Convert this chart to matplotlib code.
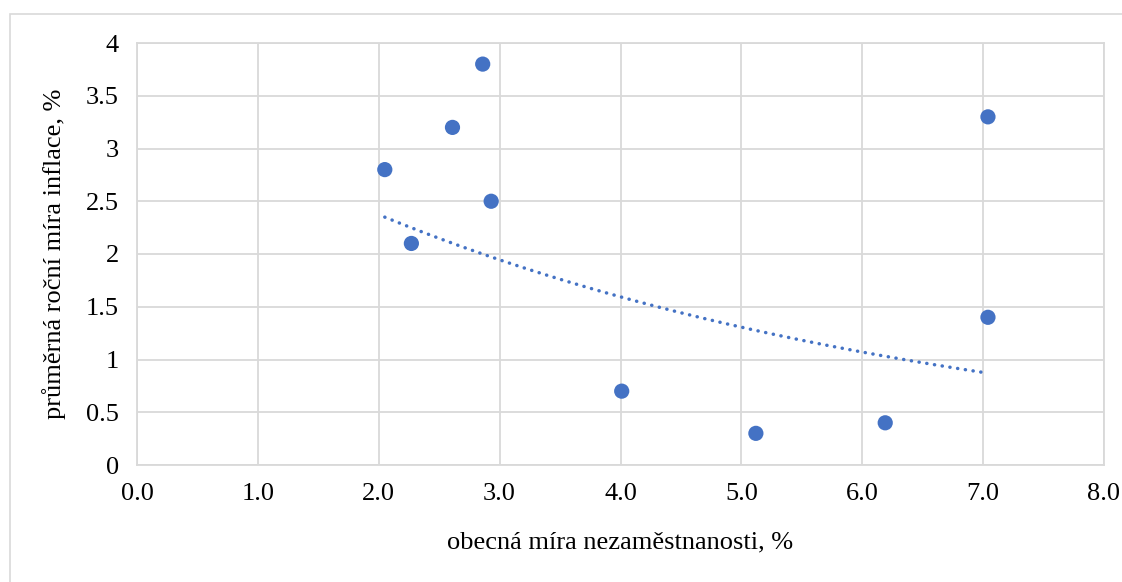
import numpy as np
import matplotlib
matplotlib.use("Agg")
import matplotlib.pyplot as plt
from matplotlib.patches import Rectangle

# data
unemployment = [2.05, 2.27, 2.61, 2.86, 2.93, 4.01, 5.12, 6.19, 7.04, 7.04]
inflation = [2.8, 2.1, 3.2, 3.8, 2.5, 0.7, 0.3, 0.4, 3.3, 1.4]
x_ticks = [0, 1, 2, 3, 4, 5, 6, 7, 8]
x_tick_labels = ["0.0", "1.0", "2.0", "3.0", "4.0", "5.0", "6.0", "7.0", "8.0"]
y_ticks = [0, 0.5, 1, 1.5, 2, 2.5, 3, 3.5, 4]
y_tick_labels = ["0", "0.5", "1", "1.5", "2", "2.5", "3", "3.5", "4"]
x_label = "obecná míra nezaměstnanosti, %"
y_label = "průměrná roční míra inflace, %"

plt.rcParams['font.family'] = ['Liberation Serif', 'DejaVu Serif']

W, H = 1122, 582
fig = plt.figure(figsize=(W / 100, H / 100), dpi=100)
fig.patch.set_facecolor("white")

# outer chart border
fig.add_artist(Rectangle((10 / W, -0.1), 1.2, (H - 14) / H + 0.1,
                         transform=fig.transFigure, fill=False,
                         edgecolor="#D9D9D9", linewidth=1.2))

ax = fig.add_axes([137 / W, 1 - 465 / H, (1104 - 137) / W, (465 - 43) / H])

grid_color = "#D9D9D9"
for s in ax.spines.values():
    s.set_color(grid_color)
    s.set_linewidth(1.3)
ax.grid(True, color=grid_color, linewidth=1.3)
ax.set_axisbelow(True)

x = np.array(unemployment)
y = np.array(inflation)

# exponential trendline (least squares on log y)
b, lna = np.polyfit(x, np.log(y), 1)
xs = np.linspace(x.min(), x.max(), 200)
ys = np.exp(lna) * np.exp(b * xs)
ax.plot(xs, ys, color="#4472C4", linewidth=2.5, linestyle=(0, (0.05, 2.2)),
        dash_capstyle="round", zorder=2)

ax.scatter(x, y, s=120, color="#4472C4", edgecolors="none", zorder=3)

ax.set_xlim(0, 8)
ax.set_ylim(0, 4)
ax.set_xticks(x_ticks)
ax.set_xticklabels(x_tick_labels)
ax.set_yticks(y_ticks)
ax.set_yticklabels(y_tick_labels)
ax.tick_params(axis="both", length=0, labelsize=19, colors="black")
ax.tick_params(axis="x", pad=13)
ax.tick_params(axis="y", pad=13)

ax.set_xlabel(x_label, fontsize=19, labelpad=19)
ax.set_ylabel(y_label, fontsize=19, labelpad=14)

fig.savefig("out.png", dpi=100, facecolor="white")
